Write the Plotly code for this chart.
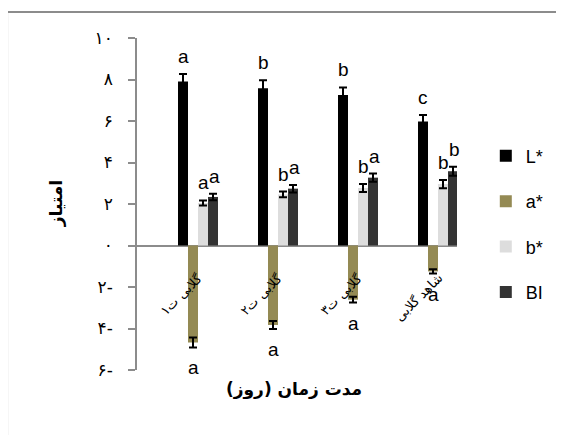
import plotly.graph_objects as go

categories = ["گلابی ت۱", "گلابی ت۲", "گلابی ت۳", "شاهد گلابی"]
series_names = ["L*", "a*", "b*", "BI"]
L_vals = [7.90, 7.58, 7.25, 5.97]
L_err = [0.36, 0.38, 0.37, 0.32]
a_vals = [-4.67, -3.83, -2.61, -1.25]
a_err = [0.24, 0.19, 0.14, 0.10]
b_vals = [2.05, 2.46, 2.77, 2.96]
b_err = [0.12, 0.14, 0.19, 0.20]
BI_vals = [2.34, 2.74, 3.27, 3.58]
BI_err = [0.16, 0.18, 0.20, 0.22]
L_letters = ["a", "b", "b", "c"]
a_letters = ["a", "a", "a", "a"]
b_letters = ["a", "b", "b", "b"]
BI_letters = ["a", "a", "a", "b"]
y_tickvals = [10, 8, 6, 4, 2, 0, -2, -4, -6]
y_ticktext = ["۱۰", "۸", "۶", "۴", "۲", "۰", "۲-", "۴-", "۶-"]
y_title = "امتیاز"
x_title = "مدت زمان (روز)"

colors = ["#000000", "#948A54", "#DDDDDD", "#333333"]
values = [L_vals, a_vals, b_vals, BI_vals]
errors = [L_err, a_err, b_err, BI_err]
letters = [L_letters, a_letters, b_letters, BI_letters]

fig = go.Figure()
for i, name in enumerate(series_names):
    fig.add_trace(go.Bar(
        x=categories, y=values[i], name=name,
        marker=dict(color=colors[i], line=dict(width=0)),
        error_y=dict(type="data", array=errors[i], color="#000000",
                     thickness=2, width=4),
        legendgroup=name,
    ))

offsets = [-15, -5, 5, 15]
latin = "Liberation Sans, Arial, sans-serif"
for i in range(4):
    for j, cat in enumerate(categories):
        v = values[i][j]
        e = errors[i][j]
        if v >= 0:
            fig.add_annotation(x=cat, y=v + e, xref="x", yref="y", text=letters[i][j],
                               showarrow=False, xshift=offsets[i] + (1 if i == 3 else 0), yshift=5,
                               yanchor="bottom", font=dict(family=latin, size=19, color="#000"))
        else:
            fig.add_annotation(x=cat, y=v - e, xref="x", yref="y", text=letters[i][j],
                               showarrow=False, xshift=offsets[i], yshift=-8,
                               yanchor="top", font=dict(family=latin, size=19, color="#000"))

for j, cat in enumerate(categories):
    fig.add_annotation(x=cat, y=0, xref="x", yref="y", text=cat, showarrow=False,
                       textangle=-45, xanchor="right", yanchor="top",
                       xshift=10, yshift=-22,
                       font=dict(family="DejaVu Sans", size=13, color="#000"))

fig.add_annotation(x=-0.29, y=0.5, xref="paper", yref="paper", text="<b>" + y_title + "</b>",
                   showarrow=False, textangle=-90,
                   font=dict(family="DejaVu Sans", size=17, color="#000"))
fig.add_annotation(x=0.49, y=-0.06, xref="paper", yref="paper", text="<b>" + x_title + "</b>",
                   showarrow=False, yanchor="middle",
                   font=dict(family="DejaVu Sans", size=17, color="#000"))

fig.add_shape(type="rect", xref="paper", yref="paper",
              x0=-0.406, x1=2.0, y0=-1.0, y1=1.078,
              line=dict(color="#8c8c8c", width=2), fillcolor="rgba(0,0,0,0)")

fig.update_layout(
    width=564, height=435,
    margin=dict(l=129, r=115, t=30, b=73),
    paper_bgcolor="white", plot_bgcolor="white",
    barmode="group", bargap=0.5, bargroupgap=0,
    showlegend=True,
    legend=dict(x=1.09, y=0.70, xanchor="left", yanchor="top",
                font=dict(family=latin, size=18, color="#000"),
                tracegroupgap=19, bgcolor="rgba(0,0,0,0)"),
    xaxis=dict(range=[-0.7625, 3.2375], showticklabels=False, showline=False,
               showgrid=False, zeroline=False, ticks=""),
    yaxis=dict(range=[-6, 10], tickvals=y_tickvals, ticktext=y_ticktext,
               showline=True, linecolor="#8c8c8c", linewidth=1.5,
               ticks="outside", ticklen=7, tickcolor="#8c8c8c", tickwidth=1.5,
               showgrid=False, zeroline=True, zerolinecolor="#8c8c8c", zerolinewidth=2,
               ticklabelstandoff=12,
               tickfont=dict(family="DejaVu Sans", size=17, color="#000")),
)

fig.write_html("out.html")
